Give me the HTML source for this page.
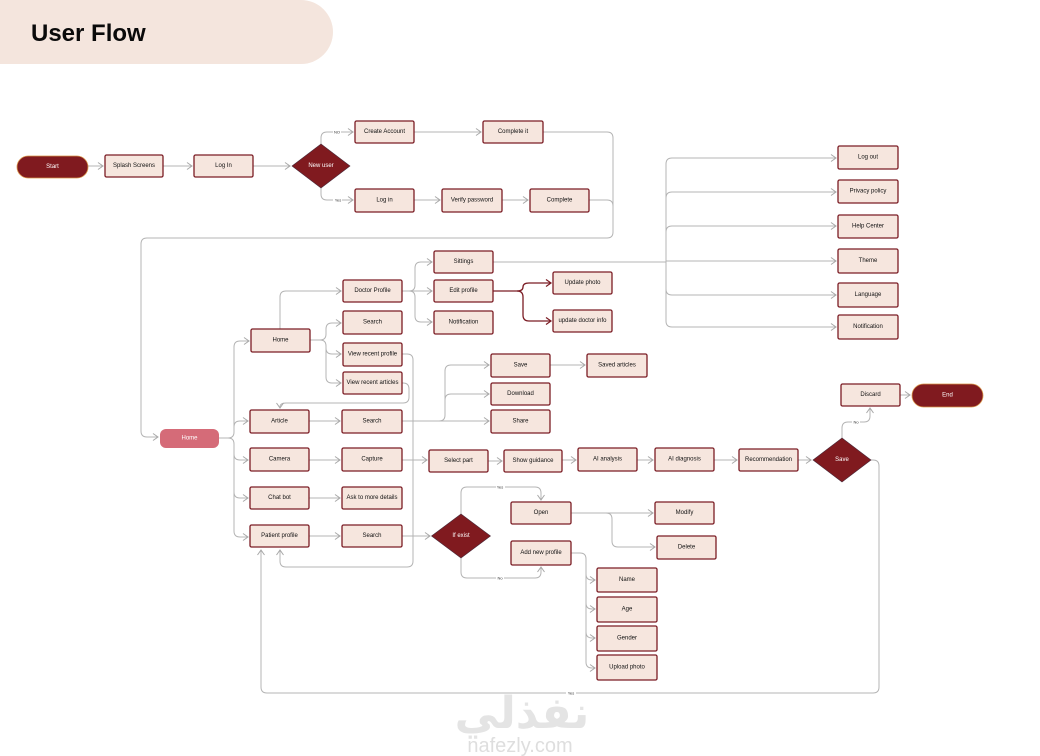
<!DOCTYPE html>
<html><head><meta charset="utf-8"><style>
html,body{margin:0;padding:0;background:#fff;}
svg{display:block;}
.b{fill:#f6e6de;stroke:#7b1c24;stroke-width:1.3;}
.t{font-family:"Liberation Sans",sans-serif;font-size:6px;fill:#111;text-anchor:middle;dominant-baseline:central;}
.w{font-family:"Liberation Sans",sans-serif;font-size:6px;fill:#fff;text-anchor:middle;dominant-baseline:central;}
.c{fill:none;stroke:#b4b4b4;stroke-width:1;}
.r{fill:none;stroke:#7b1c24;stroke-width:1.3;}
.l{font-family:"Liberation Sans",sans-serif;font-size:4px;fill:#333;text-anchor:middle;dominant-baseline:central;}
</style></head><body>
<svg width="1040" height="756" viewBox="0 0 1040 756" xmlns="http://www.w3.org/2000/svg">
<defs>
<marker id="a" markerWidth="8" markerHeight="8" refX="6" refY="4" orient="auto" markerUnits="userSpaceOnUse"><path d="M1,0.5 L6,4 L1,7.5" fill="none" stroke="#a8a8a8" stroke-width="1"/></marker>
<marker id="ar" markerWidth="8" markerHeight="8" refX="6" refY="4" orient="auto" markerUnits="userSpaceOnUse"><path d="M1,0.5 L6,4 L1,7.5" fill="none" stroke="#7b1c24" stroke-width="1.2"/></marker>
</defs>
<!-- header -->
<path d="M0,0 L301,0 A32,32 0 0 1 301,64 L0,64 Z" fill="#f4e5dd"/>
<text x="31" y="41" font-family="Liberation Sans,sans-serif" font-weight="bold" font-size="24" fill="#0a0a0a">User Flow</text>

<!-- connectors -->
<g class="c">
<path d="M88,166 L103,166" marker-end="url(#a)"/>
<path d="M163,166 L192,166" marker-end="url(#a)"/>
<path d="M253,166 L290,166" marker-end="url(#a)"/>
<path d="M321,144 L321,138 Q321,132 327,132 L353,132" marker-end="url(#a)"/>
<path d="M321,188 L321,194 Q321,200 327,200 L353,200" marker-end="url(#a)"/>
<path d="M414,132 L481,132" marker-end="url(#a)"/>
<path d="M414,200 L440,200" marker-end="url(#a)"/>
<path d="M502,200 L528,200" marker-end="url(#a)"/>
<path d="M543,132 L607,132 Q613,132 613,138 L613,232 Q613,238 607,238 L147,238 Q141,238 141,244 L141,431 Q141,437 147,437 L158,437" marker-end="url(#a)"/>
<path d="M589,200 L607,200 Q613,200 613,206"/>
<!-- home pill trunk -->
<path d="M219,438 L228,438 Q234,438 234,432 L234,347 Q234,341 240,341 L249,341" marker-end="url(#a)"/>
<path d="M228,438 Q234,438 234,444 L234,531 Q234,537 240,537 L248,537" marker-end="url(#a)"/>
<path d="M234,427 Q234,421 240,421 L248,421" marker-end="url(#a)"/>
<path d="M234,454 Q234,460 240,460 L248,460" marker-end="url(#a)"/>
<path d="M234,492 Q234,498 240,498 L248,498" marker-end="url(#a)"/>
<!-- home -->
<path d="M280,329 L280,297 Q280,291 286,291 L341,291" marker-end="url(#a)"/>
<path d="M310,340 L320,340 Q326,340 326,334 L326,329 Q326,323 332,323 L341,323" marker-end="url(#a)"/>
<path d="M320,340 Q326,340 326,346 L326,348 Q326,354 332,354 L341,354" marker-end="url(#a)"/>
<path d="M326,348 L326,377 Q326,383 332,383 L341,383" marker-end="url(#a)"/>
<path d="M402,354 L407,354 Q413,354 413,360 L413,561 Q413,567 407,567 L286,567 Q280,567 280,561 L280,550" marker-end="url(#a)"/>
<path d="M402,383 L403,383 Q409,383 409,389 L409,397 Q409,403 403,403 L286,403 Q280,403 280,407 L280,408" marker-end="url(#a)"/>
<!-- doctor profile -->
<path d="M402,291 L432,291" marker-end="url(#a)"/>
<path d="M409,291 Q415,291 415,285 L415,268 Q415,262 421,262 L432,262" marker-end="url(#a)"/>
<path d="M409,291 Q415,291 415,297 L415,316 Q415,322 421,322 L432,322" marker-end="url(#a)"/>
<!-- settings -->
<path d="M493,262 L666,262"/>
<path d="M666,321 L666,164 Q666,158 672,158 L836,158" marker-end="url(#a)"/>
<path d="M666,198 Q666,192 672,192 L836,192" marker-end="url(#a)"/>
<path d="M666,232 Q666,226 672,226 L836,226" marker-end="url(#a)"/>
<path d="M666,261 L836,261" marker-end="url(#a)"/>
<path d="M666,289 Q666,295 672,295 L836,295" marker-end="url(#a)"/>
<path d="M666,321 Q666,327 672,327 L836,327" marker-end="url(#a)"/>
<!-- article search -->
<path d="M402,421 L489,421" marker-end="url(#a)"/>
<path d="M439,421 Q445,421 445,415 L445,371 Q445,365 451,365 L489,365" marker-end="url(#a)"/>
<path d="M445,400 Q445,394 451,394 L489,394" marker-end="url(#a)"/>
<path d="M550,365 L585,365" marker-end="url(#a)"/>
<path d="M309,421 L340,421" marker-end="url(#a)"/>
<path d="M309,460 L340,460" marker-end="url(#a)"/>
<path d="M309,498 L340,498" marker-end="url(#a)"/>
<path d="M309,536 L340,536" marker-end="url(#a)"/>
<path d="M402,460 L427,460" marker-end="url(#a)"/>
<path d="M488,461 L502,461" marker-end="url(#a)"/>
<path d="M562,460 L576,460" marker-end="url(#a)"/>
<path d="M637,460 L653,460" marker-end="url(#a)"/>
<path d="M714,460 L737,460" marker-end="url(#a)"/>
<path d="M798,460 L811,460" marker-end="url(#a)"/>
<path d="M402,536 L430,536" marker-end="url(#a)"/>
<!-- if exist -->
<path d="M461,514 L461,493 Q461,487 467,487 L535,487 Q541,487 541,493 L541,500" marker-end="url(#a)"/>
<path d="M461,558 L461,572 Q461,578 467,578 L535,578 Q541,578 541,572 L541,567" marker-end="url(#a)"/>
<path d="M571,513 L653,513" marker-end="url(#a)"/>
<path d="M606,513 Q612,513 612,519 L612,541 Q612,547 618,547 L655,547" marker-end="url(#a)"/>
<path d="M571,553 L580,553 Q586,553 586,559 L586,662 Q586,668 592,668 L595,668" marker-end="url(#a)"/>
<path d="M586,574 Q586,580 592,580 L595,580" marker-end="url(#a)"/>
<path d="M586,603 Q586,609 592,609 L595,609" marker-end="url(#a)"/>
<path d="M586,632 Q586,638 592,638 L595,638" marker-end="url(#a)"/>
<!-- save diamond -->
<path d="M842,438 L842,428 Q842,422 848,422 L864,422 Q870,422 870,416 L870,408" marker-end="url(#a)"/>
<path d="M871,460 L873,460 Q879,460 879,466 L879,687 Q879,693 873,693 L267,693 Q261,693 261,687 L261,550" marker-end="url(#a)"/>
<path d="M900,395 L910,395" marker-end="url(#a)"/>
</g>
<g class="r">
<path d="M493,291 L517,291 Q523,291 523,287 Q523,283 529,283 L551,283" marker-end="url(#ar)"/>
<path d="M517,291 Q523,291 523,297 L523,315 Q523,321 529,321 L551,321" marker-end="url(#ar)"/>
</g>
<!-- edge labels -->
<g>
<rect x="333" y="130" width="8" height="4" fill="#fff"/><text class="l" x="337" y="132">NO</text>
<rect x="333" y="198" width="9" height="4" fill="#fff"/><text class="l" x="338" y="200">Yes</text>
<rect x="496" y="485" width="9" height="4" fill="#fff"/><text class="l" x="500" y="487">Yes</text>
<rect x="496" y="576" width="8" height="4" fill="#fff"/><text class="l" x="500" y="578">No</text>
<rect x="852" y="420" width="8" height="4" fill="#fff"/><text class="l" x="856" y="422">No</text>
<rect x="566" y="691" width="10" height="4" fill="#fff"/><text class="l" x="571" y="693">Yes</text>
</g>

<!-- pills -->
<rect x="17" y="156" width="71" height="22" rx="11" fill="#801a1f" stroke="#d9954a" stroke-width="0.8"/>
<text class="w" x="52.5" y="167">Start</text>
<rect x="912" y="384" width="71" height="23" rx="11.5" fill="#801a1f" stroke="#d9954a" stroke-width="0.8"/>
<text class="w" x="947.5" y="395.5">End</text>
<rect x="160" y="429" width="59" height="19" rx="6" fill="#d56b78"/>
<text class="w" x="189.5" y="438.5">Home</text>

<!-- diamonds -->
<path d="M321,144 L350,166 L321,188 L292,166 Z" fill="#801a1f" stroke="#4a2a3a" stroke-width="0.6"/>
<text class="w" x="321" y="166">New user</text>
<path d="M461,514 L490.5,536 L461,558 L431.5,536 Z" fill="#801a1f" stroke="#4a2a3a" stroke-width="0.6"/>
<text class="w" x="461" y="536">If exist</text>
<path d="M842,438 L871,460 L842,482 L813,460 Z" fill="#801a1f" stroke="#4a2a3a" stroke-width="0.6"/>
<text class="w" x="842" y="460">Save</text>

<!-- boxes -->
<g>
<rect class="b" x="105" y="155" width="58" height="22" rx="1.5"/><text class="t" x="134" y="166">Splash Screens</text>
<rect class="b" x="194" y="155" width="59" height="22" rx="1.5"/><text class="t" x="223.5" y="166">Log In</text>
<rect class="b" x="355" y="121" width="59" height="22" rx="1.5"/><text class="t" x="384.5" y="132">Create Account</text>
<rect class="b" x="483" y="121" width="60" height="22" rx="1.5"/><text class="t" x="513" y="132">Complete  it</text>
<rect class="b" x="355" y="189" width="59" height="23" rx="1.5"/><text class="t" x="384.5" y="200.5">Log in</text>
<rect class="b" x="442" y="189" width="60" height="23" rx="1.5"/><text class="t" x="472" y="200.5">Verify password</text>
<rect class="b" x="530" y="189" width="59" height="23" rx="1.5"/><text class="t" x="559.5" y="200.5">Complete</text>

<rect class="b" x="838" y="146" width="60" height="23" rx="1.5"/><text class="t" x="868" y="157.5">Log out</text>
<rect class="b" x="838" y="180" width="60" height="23" rx="1.5"/><text class="t" x="868" y="191.5">Privacy policy</text>
<rect class="b" x="838" y="215" width="60" height="23" rx="1.5"/><text class="t" x="868" y="226.5">Help Center</text>
<rect class="b" x="838" y="249" width="60" height="24" rx="1.5"/><text class="t" x="868" y="261">Theme</text>
<rect class="b" x="838" y="283" width="60" height="24" rx="1.5"/><text class="t" x="868" y="295">Language</text>
<rect class="b" x="838" y="315" width="60" height="24" rx="1.5"/><text class="t" x="868" y="327">Notification</text>

<rect class="b" x="434" y="251" width="59" height="22" rx="1.5"/><text class="t" x="463.5" y="262">Sittings</text>
<rect class="b" x="343" y="280" width="59" height="22" rx="1.5"/><text class="t" x="372.5" y="291">Doctor Profile</text>
<rect class="b" x="434" y="280" width="59" height="22" rx="1.5"/><text class="t" x="463.5" y="291">Edit profile</text>
<rect class="b" x="553" y="272" width="59" height="22" rx="1.5"/><text class="t" x="582.5" y="283">Update photo</text>
<rect class="b" x="343" y="311" width="59" height="23" rx="1.5"/><text class="t" x="372.5" y="322.5">Search</text>
<rect class="b" x="434" y="311" width="59" height="23" rx="1.5"/><text class="t" x="463.5" y="322.5">Notification</text>
<rect class="b" x="553" y="310" width="59" height="22" rx="1.5"/><text class="t" x="582.5" y="321">update doctor info</text>
<rect class="b" x="251" y="329" width="59" height="23" rx="1.5"/><text class="t" x="280.5" y="340.5">Home</text>
<rect class="b" x="343" y="343" width="59" height="23" rx="1.5"/><text class="t" x="372.5" y="354.5">View recent profile</text>
<rect class="b" x="343" y="372" width="59" height="22" rx="1.5"/><text class="t" x="372.5" y="383">View recent articles</text>

<rect class="b" x="491" y="354" width="59" height="23" rx="1.5"/><text class="t" x="520.5" y="365.5">Save</text>
<rect class="b" x="587" y="354" width="60" height="23" rx="1.5"/><text class="t" x="617" y="365.5">Saved articles</text>
<rect class="b" x="491" y="383" width="59" height="22" rx="1.5"/><text class="t" x="520.5" y="394">Download</text>
<rect class="b" x="491" y="410" width="59" height="23" rx="1.5"/><text class="t" x="520.5" y="421.5">Share</text>

<rect class="b" x="250" y="410" width="59" height="23" rx="1.5"/><text class="t" x="279.5" y="421.5">Article</text>
<rect class="b" x="342" y="410" width="60" height="23" rx="1.5"/><text class="t" x="372" y="421.5">Search</text>
<rect class="b" x="250" y="448" width="59" height="23" rx="1.5"/><text class="t" x="279.5" y="459.5">Camera</text>
<rect class="b" x="342" y="448" width="60" height="23" rx="1.5"/><text class="t" x="372" y="459.5">Capture</text>
<rect class="b" x="429" y="450" width="59" height="22" rx="1.5"/><text class="t" x="458.5" y="461">Select part</text>
<rect class="b" x="504" y="450" width="58" height="22" rx="1.5"/><text class="t" x="533" y="461">Show guidance</text>
<rect class="b" x="578" y="448" width="59" height="23" rx="1.5"/><text class="t" x="607.5" y="459.5">AI analysis</text>
<rect class="b" x="655" y="448" width="59" height="23" rx="1.5"/><text class="t" x="684.5" y="459.5">AI  diagnosis</text>
<rect class="b" x="739" y="449" width="59" height="22" rx="1.5"/><text class="t" x="768.5" y="460">Recommendation</text>
<rect class="b" x="841" y="384" width="59" height="22" rx="1.5"/><text class="t" x="870.5" y="395">Discard</text>

<rect class="b" x="250" y="487" width="59" height="22" rx="1.5"/><text class="t" x="279.5" y="498">Chat bot</text>
<rect class="b" x="342" y="487" width="60" height="22" rx="1.5"/><text class="t" x="372" y="498">Ask to more details</text>
<rect class="b" x="250" y="525" width="59" height="22" rx="1.5"/><text class="t" x="279.5" y="536">Patient profile</text>
<rect class="b" x="342" y="525" width="60" height="22" rx="1.5"/><text class="t" x="372" y="536">Search</text>

<rect class="b" x="511" y="502" width="60" height="22" rx="1.5"/><text class="t" x="541" y="513">Open</text>
<rect class="b" x="655" y="502" width="59" height="22" rx="1.5"/><text class="t" x="684.5" y="513">Modify</text>
<rect class="b" x="657" y="536" width="59" height="23" rx="1.5"/><text class="t" x="686.5" y="547.5">Delete</text>
<rect class="b" x="511" y="541" width="60" height="24" rx="1.5"/><text class="t" x="541" y="553">Add new profile</text>
<rect class="b" x="597" y="568" width="60" height="24" rx="1.5"/><text class="t" x="627" y="580">Name</text>
<rect class="b" x="597" y="597" width="60" height="25" rx="1.5"/><text class="t" x="627" y="609.5">Age</text>
<rect class="b" x="597" y="626" width="60" height="25" rx="1.5"/><text class="t" x="627" y="638.5">Gender</text>
<rect class="b" x="597" y="655" width="60" height="25" rx="1.5"/><text class="t" x="627" y="667.5">Upload photo</text>
</g>

<!-- watermark -->
<text x="522" y="728" text-anchor="middle" font-family="DejaVu Sans,sans-serif" font-weight="bold" font-size="44" fill="#e4e4e4">نفذلي</text>
<text x="520" y="752" text-anchor="middle" font-family="Liberation Sans,sans-serif" font-size="20" fill="#dedede">nafezly.com</text>
</svg>
</body></html>
